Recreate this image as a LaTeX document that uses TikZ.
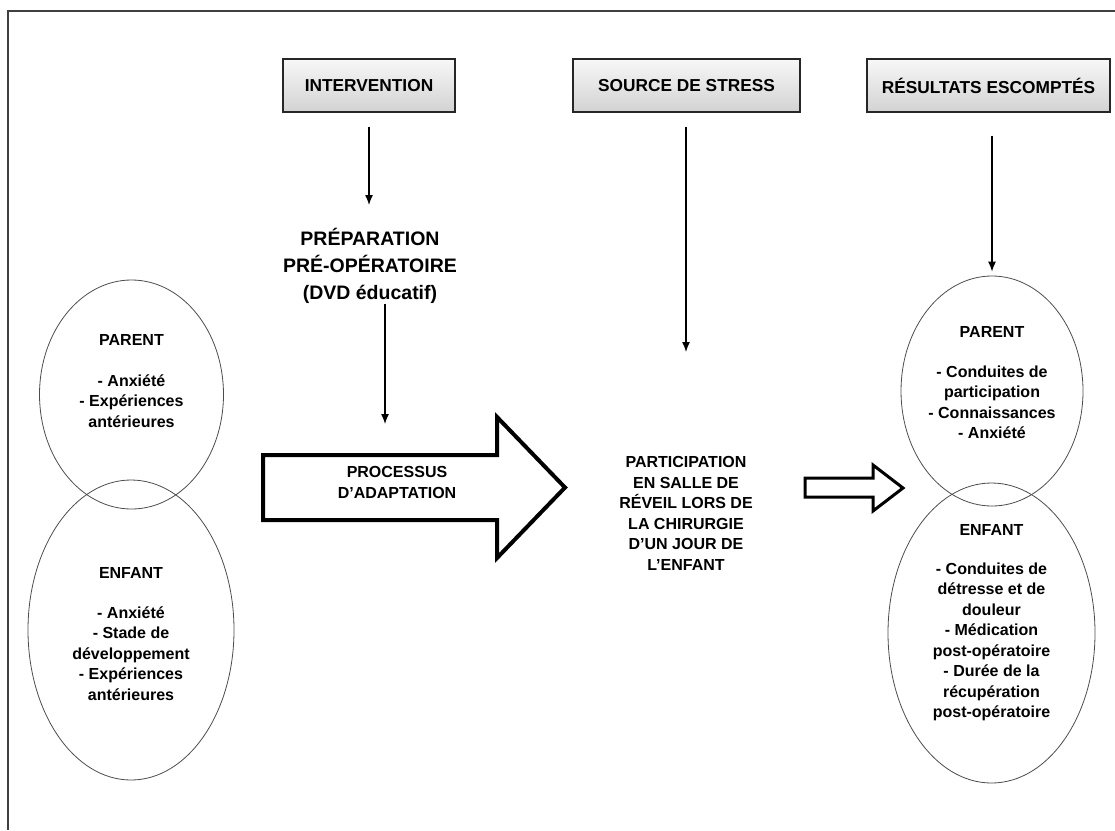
\documentclass[tikz,border=0pt]{standalone}
\usepackage{fontspec}
\setmainfont{Liberation Sans}
\usetikzlibrary{shapes.geometric,arrows.meta}
\begin{document}
\begin{tikzpicture}[x=1pt,y=-1pt,
  txt/.style={font=\bfseries\fontsize{16}{20.5}\selectfont, align=center, inner sep=0pt, anchor=north},
  bigtxt/.style={font=\bfseries\fontsize{19.5}{27}\selectfont, align=center, inner sep=0pt, anchor=north},
  topbox/.style={draw=black!85, line width=1.3pt, top color=gray!6, bottom color=gray!35, minimum height=53pt, inner sep=0pt, font=\bfseries\fontsize{17.3}{20}\selectfont},
  ell/.style={draw=black!70, line width=0.8pt, ellipse, inner sep=0pt},
  conn/.style={-{Latex[length=10pt,width=8pt]}, line width=1.3pt},
  blockarrow/.style={draw=black, line join=miter, miter limit=10}
]
\useasboundingbox (0,0) rectangle (1115,830);
% frame
\draw[line width=1.6pt, black!75] (8,830) -- (8,11) -- (1115,11);

% top boxes
\node[topbox, minimum width=172pt] (interv) at (369,85.5) {INTERVENTION};
\node[topbox, minimum width=227pt] (source) at (686.5,85.5) {SOURCE DE STRESS};
\node[topbox, minimum width=243pt] (result) at (988.5,85.5) {RÉSULTATS ESCOMPTÉS};

% preparation
\node[bigtxt] (prep) at (370,228) {PRÉPARATION\\PRÉ-OPÉRATOIRE\\(DVD éducatif)};

% ellipses
\node[ell, minimum width=184pt, minimum height=229pt] (lparent) at (131.5,394.5) {};
\node[ell, minimum width=206pt, minimum height=300pt] (lenfant) at (131,630) {};
\node[ell, minimum width=182pt, minimum height=230pt] (rparent) at (992,391) {};
\node[ell, minimum width=207pt, minimum height=300pt] (renfant) at (991.5,633) {};

% ellipse texts
\node[txt] (lparentT) at (131.5,334.5) {PARENT\\[20pt]- Anxiété\\- Expériences\\antérieures};
\node[txt] (lenfantT) at (131,567.5) {ENFANT\\[19pt]- Anxiété\\- Stade de\\développement\\- Expériences\\antérieures};
\node[txt] (rparentT) at (992,326.5) {PARENT\\[19pt]- Conduites de\\participation\\- Connaissances\\- Anxiété};
\node[txt] (renfantT) at (991.5,524.5) {ENFANT\\[18pt]- Conduites de\\détresse et de\\douleur\\- Médication\\post-opératoire\\- Durée de la\\récupération\\post-opératoire};

% center text
\node[txt] (partT) at (686,456.5) {PARTICIPATION\\EN SALLE DE\\RÉVEIL LORS DE\\LA CHIRURGIE\\D’UN JOUR DE\\L’ENFANT};

% block arrows
\draw[blockarrow, line width=4pt] (263,455) -- (497,455) -- (497,417) -- (565,487.5) -- (497,558) -- (497,520) -- (263,520) -- cycle;
\node[txt] (procT) at (397,466.5) {PROCESSUS\\D’ADAPTATION};
\draw[blockarrow, line width=3pt] (805,478) -- (873,478) -- (873,465) -- (903,488) -- (873,511) -- (873,497) -- (805,497) -- cycle;

% connectors
\coordinate (procin) at (385,424);
\coordinate (srcend) at (686,352);
\draw[conn, shorten <=14pt, shorten >=23pt] (interv.south) -- (interv.south |- prep.north);
\draw[conn] (prep.south -| procin) -- (procin);
\draw[conn, shorten <=14pt] (source.south -| srcend) -- (srcend);
\draw[conn, shorten <=23pt, shorten >=4pt] (result.south -| rparent.north) -- (rparent.north);
\end{tikzpicture}
\end{document}
